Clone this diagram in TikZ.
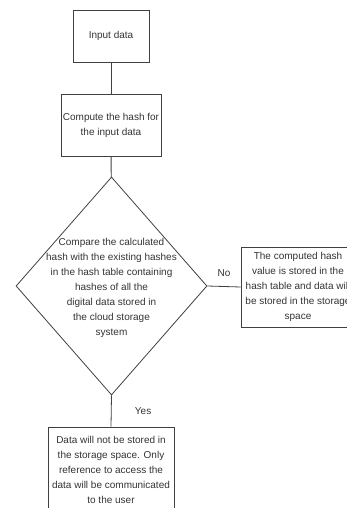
\documentclass[tikz,border=0pt]{standalone}
\usepackage{fontspec}
\setmainfont{Liberation Sans}
\usepackage{tikz}
\usetikzlibrary{arrows.meta, positioning, shapes.geometric}

\begin{document}
\begin{tikzpicture}[
  x=1pt, y=-1pt,
  every node/.style={font=\fontsize{10}{15}\selectfont, text=black!80},
  stepbox/.style={rectangle, draw=black!75, line width=0.8pt, align=center, inner sep=0pt},
  decision/.style={diamond, draw=black!75, line width=0.8pt, inner sep=0pt,
                   minimum width=191pt, minimum height=218pt},
  link/.style={draw=black!75, line width=0.8pt}
]
  \useasboundingbox (0,0) rectangle (347,508);
  \clip (0,0) rectangle (347,508);

  \node[stepbox, minimum width=76pt, minimum height=52pt]  (input)   at (111,36)  {Input data};
  \node[stepbox, minimum width=100pt, minimum height=62pt] (compute) at (111,125) {Compute the hash for\\the input data};
  \node[decision]                                          (compare) at (111.5,286) {};
  \node[align=center] (comparetext) at (111.5,288) {Compare the calculated\\hash with the existing hashes\\in the hash table containing\\hashes of all the\\digital data stored in\\the cloud storage\\system};
  \node[stepbox, minimum width=114pt, minimum height=80pt] (store)   at (298,287) {The computed hash\\value is stored in the\\hash table and data will\\be stored in the storage\\space};
  \node[stepbox, minimum width=126pt, minimum height=86pt] (skip)    at (111,470) {Data will not be stored in\\the storage space. Only\\reference to access the\\data will be communicated\\to the user};

  \foreach \a/\b in {input/compute, compute/compare}{
    \draw[link] (\a) -- (\b);
  }
  \draw[link] (compare.east) -- node[above=6pt] (no) {No} (store.west);
  \draw[link] (compare.south) -- node[right=20pt] (yes) {Yes} (skip.north);
\end{tikzpicture}
\end{document}
